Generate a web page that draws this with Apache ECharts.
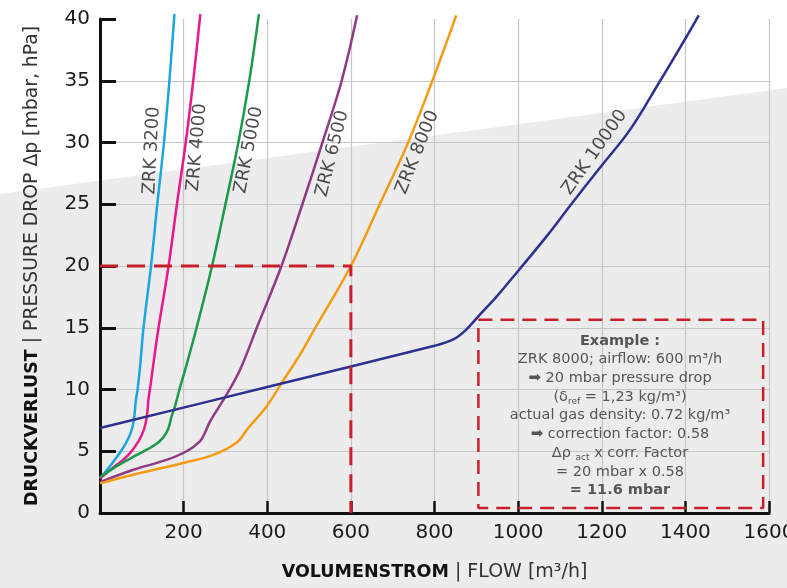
<!DOCTYPE html>
<html>
<head>
<meta charset="utf-8">
<script src="https://cdn.jsdelivr.net/npm/echarts@6/dist/echarts.min.js"></script>
<style>html,body{margin:0;padding:0;background:#fff;}#c{width:787px;height:588px;}</style>
</head>
<body>
<div id="c"></div>
<script>
// ---- data ----
const xTicks = [0, 200, 400, 600, 800, 1000, 1200, 1400, 1600];
const yTicks = [0, 5, 10, 15, 20, 25, 30, 35, 40];
const seriesNames = ['ZRK 3200', 'ZRK 4000', 'ZRK 5000', 'ZRK 6500', 'ZRK 8000', 'ZRK 10000'];
const zrk3200 = [[0,2.8],[24,3.8],[52,5.1],[70,6.2],[78,7.0],[82,7.8],[86,9.2],[90,10],[97,12.3],[104,15],[122,20],[137,25],[153,30],[166,35],[178,40.4]];
const zrk4000 = [[0,2.8],[40,3.9],[68,4.7],[92,5.8],[105,6.75],[112,7.8],[116,9.2],[121,10.4],[127,11.9],[140,15],[164,20],[184,25],[205,30],[223,35],[240,40.4]];
const zrk5000 = [[0,2.9],[40,3.8],[88,4.7],[131,5.5],[151,6.1],[163,6.8],[171,7.8],[179,8.6],[190,10],[207,12],[231,15],[268,20],[300,25],[331,30],[357,35],[380,40.4]];
const zrk6500 = [[0,2.5],[80,3.5],[159,4.3],[207,5.0],[239,5.8],[251,6.5],[263,7.4],[303,9.6],[335,11.6],[375,15],[434,20],[484,25],[532,30],[578,35],[615,40.3]];
const zrk8000 = [[0,2.4],[80,3.1],[199,4.05],[271,4.7],[327,5.7],[355,6.9],[398,8.6],[434,10.5],[478,12.8],[515,15],[600,20],[669,25],[737,30],[795,35],[852,40.3]];
const zrk10000 = [[0,6.88],[400,10.2],[800,13.54],[845,14.05],[876,14.85],[908,16.05],[948,17.5],[1000,19.6],[1068,22.4],[1127,25.0],[1199,28.1],[1267,31.0],[1338,34.9],[1398,38.3],[1432,40.3]];
const exampleFlow = 600;
const examplePressure = 20;
const exampleBox = [905, 1586, 0.4, 15.65]; // x0, x1, y0, y1
const labelFlow = [124, 232, 356, 556, 759, 1183];
const labelPressure = [29.35, 29.6, 29.4, 29.1, 29.2, 29.2];
const boxLines = [
  '{b|Example :}',
  '{t|ZRK 8000; airflow: 600 m³/h}',
  '{a|➡}{t| 20 mbar pressure drop}',
  '{t|(δ}{s|ref}{t| = 1,23 kg/m³)}',
  '{t|actual gas density: 0.72 kg/m³}',
  '{a|➡}{t| correction factor: 0.58}',
  '{t|Δρ }{s|act}{t| x corr. Factor}',
  '{t|= 20 mbar x 0.58}',
  '{b|= 11.6 mbar}'
];

// ---- styles ----
const FONT = 'DejaVu Sans';
const colors = ['#1ba6e0', '#e8198b', '#1b9a4a', '#8f3b84', '#f59b12', '#2e3092'];
const labelAngles = [87, 85, 79, 76, 68, 55];
const curves = [zrk3200, zrk4000, zrk5000, zrk6500, zrk8000, zrk10000];
const RED = '#c81f2d';

const chart = echarts.init(document.getElementById('c'), null, {renderer: 'canvas'});

const series = curves.map((d, i) => ({
  name: seriesNames[i], type: 'line', data: d, smooth: 0.35, symbol: 'none', clip: false,
  lineStyle: {color: colors[i], width: 2.5}, z: 3
}));

series.push({
  type: 'line', symbol: 'none', clip: false, z: 4,
  data: [[0, examplePressure], [exampleFlow, examplePressure], [exampleFlow, 0]],
  lineStyle: {color: RED, width: 3, type: [18, 9]}
});
series.push({
  type: 'line', symbol: 'none', clip: false, z: 4,
  data: [[exampleBox[0], exampleBox[3]], [exampleBox[1], exampleBox[3]], [exampleBox[1], exampleBox[2]], [exampleBox[0], exampleBox[2]], [exampleBox[0], exampleBox[3]]],
  lineStyle: {color: RED, width: 2.5, type: [14, 8]}
});
series.push({
  type: 'scatter', symbolSize: 0, silent: true, z: 5,
  data: labelFlow.map((x, i) => ({value: [x, labelPressure[i]], name: seriesNames[i],
    label: {rotate: labelAngles[i]}})),
  label: {show: true, position: 'inside', formatter: p => p.name, fontFamily: FONT, fontSize: 18, color: '#222'}
});

const option = {
  backgroundColor: '#ffffff',
  animation: false,
  grid: {left: 100, right: 18, top: 19, bottom: 75, containLabel: false, outerBoundsMode: 'none'},
  xAxis: {
    type: 'value', min: xTicks[0], max: xTicks[xTicks.length - 1], interval: 200,
    axisLine: {show: true, lineStyle: {color: '#111', width: 3}},
    axisTick: {show: true, inside: true, length: 12, lineStyle: {color: '#111', width: 2.5}},
    axisLabel: {fontFamily: FONT, fontSize: 20, color: '#1a1a1a', margin: 10, formatter: v => v === 0 ? '' : String(v)},
    splitLine: {show: true, lineStyle: {color: '#c6c6c6', width: 1.2}},
    name: '{b|VOLUMENSTROM}{l| | FLOW [m³/h]}', nameLocation: 'middle', nameGap: 50,
    nameTextStyle: {rich: {
      b: {fontFamily: FONT, fontWeight: 'bold', fontSize: 17.5, color: '#111'},
      l: {fontFamily: FONT, fontSize: 19, color: '#333'}
    }}
  },
  yAxis: {
    type: 'value', min: yTicks[0], max: yTicks[yTicks.length - 1], interval: 5,
    axisLine: {show: true, lineStyle: {color: '#111', width: 3}},
    axisTick: {show: true, inside: true, length: 16, lineStyle: {color: '#111', width: 3}},
    axisLabel: {fontFamily: FONT, fontSize: 20, color: '#1a1a1a', margin: 10},
    splitLine: {show: true, showMaxLine: false, lineStyle: {color: '#c6c6c6', width: 1.2}},
    name: '{b|DRUCKVERLUST}{l| | PRESSURE DROP Δp [mbar, hPa]}', nameLocation: 'middle', nameGap: 58,
    nameTextStyle: {rich: {
      b: {fontFamily: FONT, fontWeight: 'bold', fontSize: 17.5, color: '#111'},
      l: {fontFamily: FONT, fontSize: 18.8, color: '#333'}
    }}
  },
  graphic: {elements: [
    {type: 'polygon', z: -100, silent: true, shape: {points: [[0, 194], [787, 88], [787, 588], [0, 588]]}, style: {fill: '#ececec'}},
    {type: 'text', z: 100, silent: true, x: 620, y: 331.5, style: {
      text: boxLines.join('\n'), align: 'center', verticalAlign: 'top', lineHeight: 18.7,
      fontFamily: FONT, fontSize: 14.5, fill: '#555',
      rich: {
        t: {fontFamily: FONT, fontSize: 14.5, color: '#555', lineHeight: 18.7},
        b: {fontFamily: FONT, fontSize: 14.5, fontWeight: 'bold', color: '#111', lineHeight: 18.7},
        a: {fontFamily: FONT, fontSize: 15, color: '#000', lineHeight: 18.7},
        s: {fontFamily: FONT, fontSize: 9, color: '#555', lineHeight: 18.7, padding: [9, 0, 0, 0]}
      }
    }}
  ]},
  series: series
};
chart.setOption(option);
</script>
</body>
</html>
